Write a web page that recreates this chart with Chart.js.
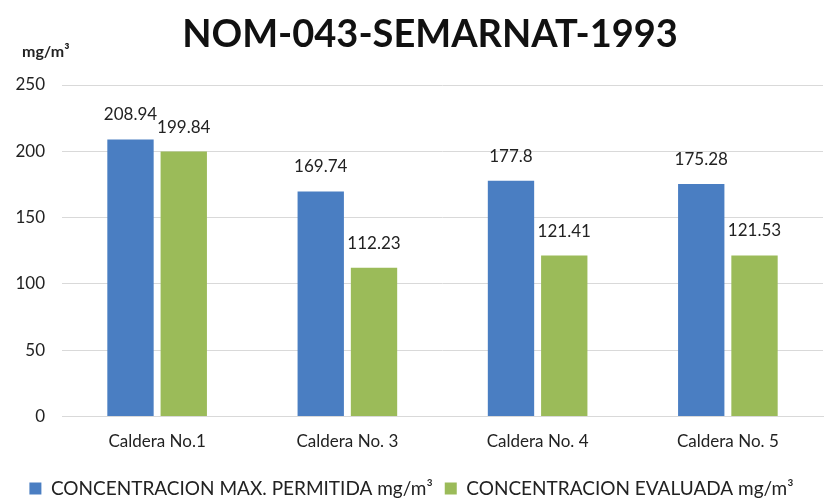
<!DOCTYPE html>
<html>
<head>
<meta charset="utf-8">
<script src="https://cdn.jsdelivr.net/npm/chart.js@4.4.1/dist/chart.umd.min.js"></script>
<style>
  body { margin: 0; background: #fff; }
  #wrap { width: 829px; height: 501px; }
</style>
</head>
<body>
<div id="wrap"><canvas id="myChart" width="829" height="501"></canvas></div>
<script>
const calderas = ['Caldera No.1', 'Caldera No. 3', 'Caldera No. 4', 'Caldera No. 5'];
const maxPermitida = [208.94, 169.74, 177.8, 175.28];
const evaluada = [199.84, 112.23, 121.41, 121.53];
const yTicks = [0, 50, 100, 150, 200, 250];

const FONT = 'Lato, "Open Sans", sans-serif';

// title, unit and the numbers above each bar
const barLabels = {
  id: 'barLabels',
  afterDatasetsDraw(chart) {
    const ctx = chart.ctx;
    ctx.save();
    ctx.font = '17px ' + FONT;
    ctx.fillStyle = '#222';
    ctx.textAlign = 'center';
    ctx.textBaseline = 'alphabetic';
    chart.data.datasets.forEach((ds, i) => {
      chart.getDatasetMeta(i).data.forEach((bar, j) => {
        ctx.fillText(String(ds.data[j]), bar.x, bar.y - 19);
      });
    });
    ctx.fillStyle = '#111';
    ctx.font = 'bold 38px ' + FONT;
    ctx.fillText('NOM-043-SEMARNAT-1993', 430, 47);
    ctx.fillStyle = '#222';
    ctx.font = 'bold 16px ' + FONT;
    ctx.textAlign = 'left';
    ctx.fillText('mg/m³', 22, 57);
    ctx.restore();
  }
};

const ctx = document.getElementById('myChart').getContext('2d');
new Chart(ctx, {
  type: 'bar',
  data: {
    labels: calderas,
    datasets: [
      {
        label: 'CONCENTRACION MAX. PERMITIDA mg/m³',
        data: maxPermitida,
        backgroundColor: '#4a7ec2',
        barPercentage: 0.87,
        categoryPercentage: 0.56,
      },
      {
        label: 'CONCENTRACION EVALUADA mg/m³',
        data: evaluada,
        backgroundColor: '#9bbb59',
        barPercentage: 0.87,
        categoryPercentage: 0.56,
      },
    ],
  },
  options: {
    responsive: false,
    animation: false,
    layout: { padding: { left: 0, right: 6, top: 85, bottom: -7 } },
    plugins: {
      title: { display: false },
      legend: {
        position: 'bottom',
        labels: {
          color: '#222',
          font: { family: FONT, size: 19 },
          boxWidth: 12,
          boxHeight: 12,
          padding: 12,
        },
      },
      tooltip: { enabled: false },
    },
    scales: {
      x: {
        grid: { display: false, drawTicks: false },
        border: { color: '#d9d9d9' },
        ticks: { color: '#222', font: { family: FONT, size: 17 }, padding: 15 },
      },
      y: {
        min: 0,
        max: 250,
        afterBuildTicks: axis => { axis.ticks = yTicks.map(v => ({ value: v })); },
        afterFit: axis => { axis.width = 62; },
        grid: { color: '#d9d9d9', drawTicks: false },
        border: { display: false },
        ticks: { color: '#222', font: { family: FONT, size: 17 }, padding: 17 },
      },
    },
  },
  plugins: [barLabels],
});
</script>
</body>
</html>
